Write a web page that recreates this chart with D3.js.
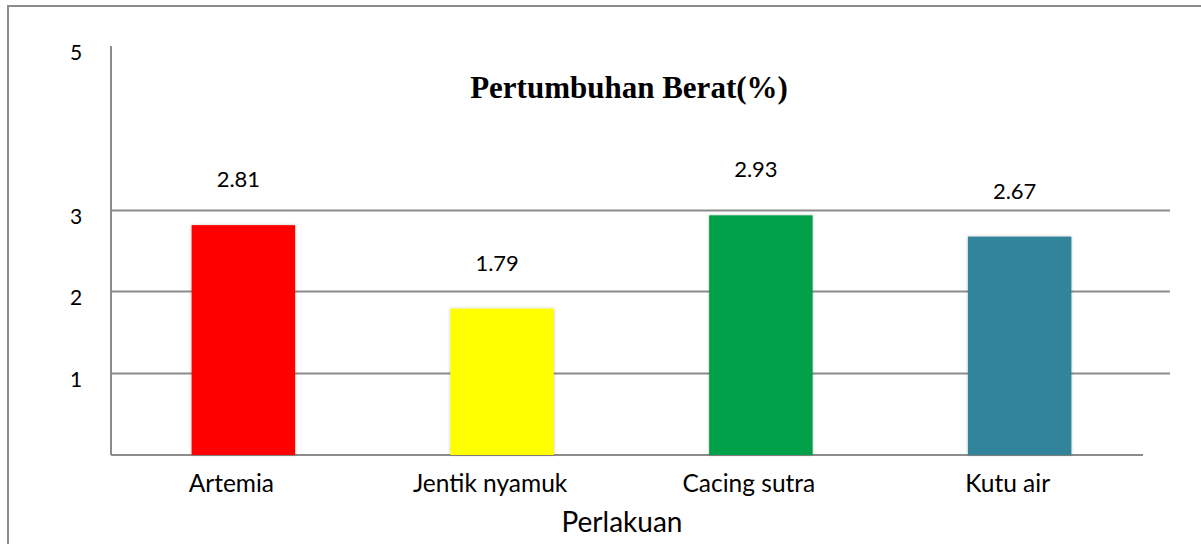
<!DOCTYPE html>
<html>
<head>
<meta charset="utf-8">
<script src="https://cdn.jsdelivr.net/npm/d3@7"></script>
<style>
  body { margin: 0; background: #fff; }
  svg text { font-family: Lato, "Open Sans", sans-serif; fill: #000; }
</style>
</head>
<body>
<svg id="vis" width="1201" height="544"></svg>
<script>
// data
var categories = ["Artemia", "Jentik nyamuk", "Cacing sutra", "Kutu air"];
var values = [2.81, 1.79, 2.93, 2.67];
var barColors = ["#ff0000", "#ffff00", "#00a04a", "#31849b"];
var yTicks = [1, 2, 3, 5];
var gridValues = [1, 2, 3];

var svg = d3.select("#vis");

// outer chart frame (runs off the right and bottom of the picture)
svg.append("rect")
  .attr("x", 8).attr("y", 6)
  .attr("width", 1240).attr("height", 600)
  .attr("fill", "none")
  .attr("stroke", "#8c8c8c")
  .attr("stroke-width", 2);

var margin = {top: 46, right: 31, bottom: 89, left: 111};
var plotWidth = 1201 - margin.left - margin.right;
var plotHeight = 544 - margin.top - margin.bottom;

var plot = svg.append("g")
  .attr("transform", "translate(" + margin.left + "," + margin.top + ")");

var yScale = d3.scaleLinear()
  .domain([0, 5])
  .range([plotHeight, 0]);

var xScale = d3.scaleBand()
  .domain(categories)
  .range([3, 1038])
  .paddingInner(0.6)
  .paddingOuter(0.3);

// gridlines
plot.selectAll("line.grid")
  .data(gridValues)
  .enter().append("line")
  .attr("class", "grid")
  .attr("x1", 0).attr("x2", plotWidth)
  .attr("y1", function(d) { return Math.round(yScale(d)) + 0.5; })
  .attr("y2", function(d) { return Math.round(yScale(d)) + 0.5; })
  .attr("stroke", "#8c8c8c")
  .attr("stroke-width", 2);

// axis lines
plot.append("line")
  .attr("x1", 0).attr("x2", 0)
  .attr("y1", 0).attr("y2", plotHeight)
  .attr("stroke", "#8c8c8c").attr("stroke-width", 2);
plot.append("line")
  .attr("x1", 0).attr("x2", plotWidth - 27)
  .attr("y1", plotHeight).attr("y2", plotHeight)
  .attr("stroke", "#8c8c8c").attr("stroke-width", 2);

// y tick labels
plot.selectAll("text.ytick")
  .data(yTicks)
  .enter().append("text")
  .attr("class", "ytick")
  .attr("x", -35)
  .attr("y", function(d) { return yScale(d) + 14; })
  .attr("text-anchor", "middle")
  .style("font-size", "21px")
  .text(function(d) { return d; });

// soft shadow for the bars
var defs = svg.append("defs");
var f = defs.append("filter").attr("id", "shadow")
  .attr("x", "-10%").attr("y", "-10%").attr("width", "120%").attr("height", "120%");
f.append("feGaussianBlur").attr("in", "SourceAlpha").attr("stdDeviation", 1.5).attr("result", "b");
f.append("feFlood").attr("flood-color", "#000").attr("flood-opacity", 0.25).attr("result", "c");
f.append("feComposite").attr("in", "c").attr("in2", "b").attr("operator", "in").attr("result", "s");
var m = f.append("feMerge");
m.append("feMergeNode").attr("in", "s");
m.append("feMergeNode").attr("in", "SourceGraphic");

var rows = categories.map(function(c, i) {
  return {cat: c, value: values[i], color: barColors[i]};
});

plot.selectAll("rect.bar")
  .data(rows)
  .enter().append("rect")
  .attr("class", "bar")
  .attr("x", function(d) { return xScale(d.cat); })
  .attr("width", xScale.bandwidth())
  .attr("y", function(d) { return yScale(d.value); })
  .attr("height", function(d) { return plotHeight - yScale(d.value); })
  .attr("fill", function(d) { return d.color; })
  .attr("filter", "url(#shadow)");

// value labels
plot.selectAll("text.val")
  .data(rows)
  .enter().append("text")
  .attr("class", "val")
  .attr("x", function(d) { return xScale(d.cat) + xScale.bandwidth() / 2 - 5; })
  .attr("y", function(d) { return yScale(d.value) - 38; })
  .attr("text-anchor", "middle")
  .style("font-size", "22px")
  .text(function(d) { return d.value.toFixed(2); });

// category labels
plot.selectAll("text.cat")
  .data(rows)
  .enter().append("text")
  .attr("class", "cat")
  .attr("x", function(d) { return xScale(d.cat) + xScale.bandwidth() / 2 - 12; })
  .attr("y", plotHeight + 37)
  .attr("text-anchor", "middle")
  .style("font-size", "24.5px")
  .text(function(d) { return d.cat; });

// axis title
svg.append("text")
  .attr("x", 622).attr("y", 532)
  .attr("text-anchor", "middle")
  .style("font-size", "28px")
  .text("Perlakuan");

// chart title
svg.append("text")
  .attr("x", 629).attr("y", 98)
  .attr("text-anchor", "middle")
  .style("font-family", "'Liberation Serif', 'Times New Roman', serif")
  .style("font-weight", "bold")
  .style("font-size", "31px")
  .text("Pertumbuhan Berat(%)");
</script>
</body>
</html>
